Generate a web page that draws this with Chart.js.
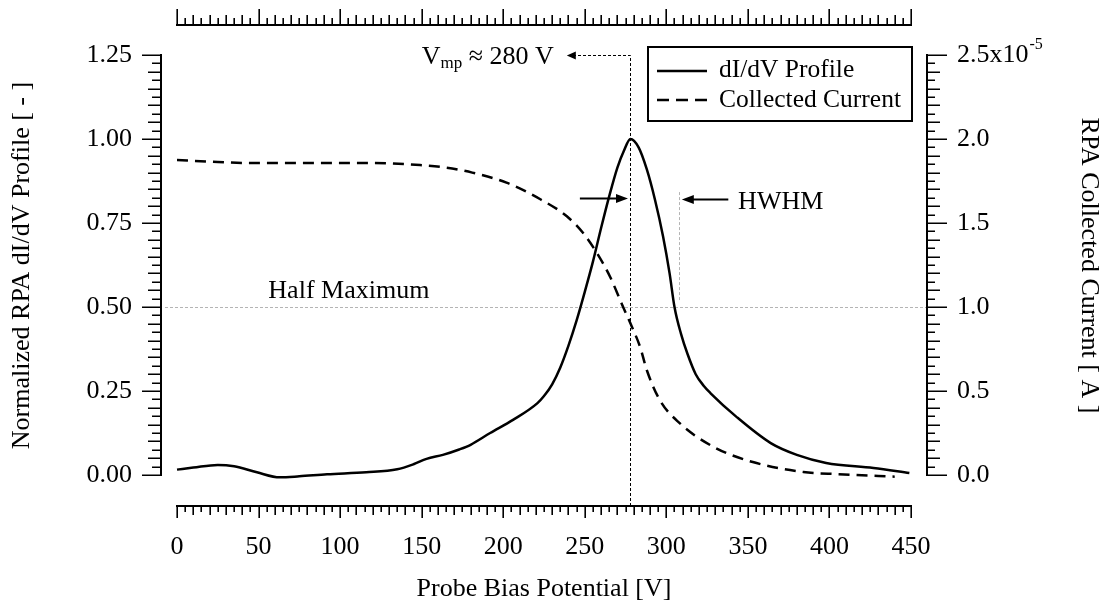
<!DOCTYPE html>
<html><head><meta charset="utf-8">
<script src="https://cdn.jsdelivr.net/npm/chart.js@4/dist/chart.umd.min.js"></script>
<style>html,body{margin:0;padding:0;background:#fff;} #wrap{width:1111px;height:609px;position:relative;}</style>
</head><body><div id="wrap"><canvas id="c"></canvas></div>
<script>
// ---- data ----
const profileBias   = [0, 10, 25, 35, 49, 63, 75, 92, 116, 135, 145, 153, 163, 173, 180, 192, 206, 221, 225, 230, 235, 240, 245, 250, 255, 260, 265, 270, 274, 278, 283, 288, 293, 298, 302, 305, 309, 313, 318, 323, 327, 343, 364, 380, 398, 427, 449];
const profileValues = [0.016, 0.022, 0.030, 0.026, 0.008, -0.007, -0.004, 0.002, 0.008, 0.017, 0.032, 0.048, 0.060, 0.076, 0.090, 0.125, 0.164, 0.214, 0.235, 0.270, 0.320, 0.385, 0.460, 0.545, 0.635, 0.735, 0.830, 0.915, 0.965, 1.000, 0.975, 0.910, 0.820, 0.710, 0.600, 0.500, 0.420, 0.360, 0.300, 0.265, 0.244, 0.173, 0.095, 0.060, 0.036, 0.021, 0.006];
const currentBias   = [0, 20, 45, 80, 118, 149, 165, 181, 202, 223, 239, 249, 257.5, 265.5, 273.5, 279, 284, 288, 296, 308, 329, 353, 384, 405, 440];
const currentValues = [1.875e-5, 1.865e-5, 1.857e-5, 1.857e-5, 1.857e-5, 1.845e-5, 1.83e-5, 1.80e-5, 1.74e-5, 1.64e-5, 1.54e-5, 1.44e-5, 1.32e-5, 1.18e-5, 1.00e-5, 0.88e-5, 0.76e-5, 0.625e-5, 0.446e-5, 0.31e-5, 0.167e-5, 0.077e-5, 0.018e-5, 0.005e-5, -0.01e-5];
const xTickValues     = [0, 50, 100, 150, 200, 250, 300, 350, 400, 450];
const leftTickValues  = [0, 0.25, 0.5, 0.75, 1.0, 1.25];
const rightTickValues = [0, 0.5e-5, 1.0e-5, 1.5e-5, 2.0e-5, 2.5e-5];
const seriesNames = ['dI/dV Profile', 'Collected Current'];
const vmpValue = 278;
const halfMaxValue = 0.5;
const hwhmRightValue = 308;

// axis ranges (offset axes, Igor style)
const X_MIN = -9.809, X_MAX = 459.809;
const Y_MIN = -0.092262, Y_MAX = 1.339286;
const Y2_MIN = Y_MIN * 2e-5, Y2_MAX = Y_MAX * 2e-5;

const FONT = 'Liberation Serif, "Times New Roman", serif';
const FS = 26;

function pts(xs, ys){ return xs.map((v,i)=>({x:v, y:ys[i]})); }

function arrowHead(ctx, tipX, tipY, dir, len, half){
  ctx.beginPath();
  ctx.moveTo(tipX, tipY);
  ctx.lineTo(tipX - dir*len, tipY - half);
  ctx.lineTo(tipX - dir*len, tipY + half);
  ctx.closePath(); ctx.fill();
}

const decor = {
  id: 'decor',
  beforeDatasetsDraw(chart){
    const {ctx, chartArea: ca, scales: {x, y}} = chart;
    ctx.save();
    ctx.strokeStyle = '#b4b4b4'; ctx.lineWidth = 1; ctx.setLineDash([3,2]);
    const hy = Math.round(y.getPixelForValue(halfMaxValue)) + 0.5;
    ctx.beginPath(); ctx.moveTo(ca.left + 4, hy); ctx.lineTo(ca.right, hy); ctx.stroke();
    const hx = Math.round(x.getPixelForValue(hwhmRightValue)) + 0.5;
    ctx.beginPath(); ctx.moveTo(hx, y.getPixelForValue(0.842)); ctx.lineTo(hx, y.getPixelForValue(0.52)); ctx.stroke();
    ctx.strokeStyle = '#000'; ctx.setLineDash([3,2]);
    const vx = Math.round(x.getPixelForValue(vmpValue)) + 0.5;
    const topY = Math.round(y.getPixelForValue(1.25)) + 0.5;
    ctx.beginPath(); ctx.moveTo(vx, ca.bottom); ctx.lineTo(vx, topY); ctx.lineTo(x.getPixelForValue(239) + 8, topY); ctx.stroke();
    ctx.setLineDash([]);
    ctx.fillStyle = '#000';
    arrowHead(ctx, x.getPixelForValue(239), topY, -1, 9, 4);
    ctx.restore();
  },
  afterDraw(chart){
    const {ctx, chartArea: ca, scales: {x, y, y2}} = chart;
    ctx.save();
    ctx.strokeStyle = '#000'; ctx.fillStyle = '#000';
    ctx.lineWidth = 2;
    const x0 = x.getPixelForValue(0), x1 = x.getPixelForValue(450);
    ctx.beginPath(); ctx.moveTo(x0 - 1, ca.bottom); ctx.lineTo(x1 + 1, ca.bottom); ctx.stroke();
    ctx.beginPath(); ctx.moveTo(x0 - 1, ca.top); ctx.lineTo(x1 + 1, ca.top); ctx.stroke();
    const yb = y.getPixelForValue(0), yt = y.getPixelForValue(1.25);
    ctx.beginPath(); ctx.moveTo(ca.left, yb + 1); ctx.lineTo(ca.left, yt - 1); ctx.stroke();
    ctx.beginPath(); ctx.moveTo(ca.right, yb + 1); ctx.lineTo(ca.right, yt - 1); ctx.stroke();
    ctx.lineWidth = 1.6;
    ctx.beginPath();
    for (let i = 0; i <= 90; i++) {
      const v = i * 5; const px = Math.round(x.getPixelForValue(v)) + 0.2;
      const lb = (v % 50 === 0) ? 12 : (v % 10 === 0 ? 9 : 6);
      ctx.moveTo(px, ca.bottom); ctx.lineTo(px, ca.bottom + lb);
      const lt = (v % 50 === 0) ? 16 : (v % 10 === 0 ? 10 : 7);
      ctx.moveTo(px, ca.top); ctx.lineTo(px, ca.top - lt);
    }
    for (let i = 0; i <= 50; i++) {
      const py = Math.round(y.getPixelForValue(i * 0.025)) + 0.2;
      const ll = (i % 10 === 0) ? 19 : (i % 2 === 0 ? 13 : 9);
      ctx.moveTo(ca.left, py); ctx.lineTo(ca.left - ll, py);
      const py2 = Math.round(y2.getPixelForValue(i * 0.05e-5)) + 0.2;
      const lr = (i % 10 === 0) ? 20 : (i % 2 === 0 ? 13 : 8);
      ctx.moveTo(ca.right, py2); ctx.lineTo(ca.right + lr, py2);
    }
    ctx.stroke();

    ctx.font = FS + 'px ' + FONT;
    const wLab = ctx.measureText('2.5x10').width;
    const lx = ca.right + 30;
    ctx.font = '16px ' + FONT; ctx.textBaseline = 'middle'; ctx.textAlign = 'left';
    ctx.fillText('-5', lx + wLab + 1, y2.getPixelForValue(2.5e-5) - 10);

    const labY = y.getPixelForValue(1.25) + 2;
    const rightEnd = x.getPixelForValue(231);
    ctx.font = FS + 'px ' + FONT;
    const wV = ctx.measureText('V').width;
    const rest = ' \u2248 280 V';
    const wRest = ctx.measureText(rest).width;
    ctx.font = '17px ' + FONT;
    const wSub = ctx.measureText('mp').width;
    let sx = rightEnd - (wV + wSub + wRest);
    ctx.font = FS + 'px ' + FONT; ctx.fillText('V', sx, labY);
    ctx.font = '17px ' + FONT; ctx.fillText('mp', sx + wV, labY + 7);
    ctx.font = FS + 'px ' + FONT; ctx.fillText(rest, sx + wV + wSub, labY);

    ctx.lineWidth = 2;
    const ay = Math.round(y.getPixelForValue(0.824)) + 0.5;
    const lTail = x.getPixelForValue(247), lTip = x.getPixelForValue(276.5);
    ctx.beginPath(); ctx.moveTo(lTail, ay); ctx.lineTo(lTip - 10, ay); ctx.stroke();
    arrowHead(ctx, lTip, ay, 1, 12, 4.5);
    const ay2 = Math.round(y.getPixelForValue(0.82)) + 0.5;
    const rTip = x.getPixelForValue(309.5), rTail = x.getPixelForValue(338);
    ctx.beginPath(); ctx.moveTo(rTail, ay2); ctx.lineTo(rTip + 10, ay2); ctx.stroke();
    arrowHead(ctx, rTip, ay2, -1, 12, 4.5);
    ctx.font = FS + 'px ' + FONT; ctx.textAlign = 'left'; ctx.textBaseline = 'middle';
    ctx.fillText('HWHM', x.getPixelForValue(344), y.getPixelForValue(0.8125));
    ctx.fillText('Half Maximum', x.getPixelForValue(56), y.getPixelForValue(0.548));

    ctx.lineWidth = 2;
    ctx.strokeRect(648, 47, 264, 74);
    ctx.lineWidth = 2.5;
    ctx.beginPath(); ctx.moveTo(657, 71); ctx.lineTo(707, 71); ctx.stroke();
    ctx.setLineDash([12,7]);
    ctx.beginPath(); ctx.moveTo(657, 100); ctx.lineTo(707, 100); ctx.stroke();
    ctx.setLineDash([]);
    ctx.font = '25.5px ' + FONT;
    ctx.fillText(seriesNames[0], 719, 70);
    ctx.fillText(seriesNames[1], 719, 100);
    ctx.restore();
  }
};

const tickFont = {family: FONT, size: FS};
function noPadV(s, w){ s.width = w; s.paddingTop = 0; s.paddingBottom = 0; }
new Chart(document.getElementById('c'), {
  type: 'line',
  data: {
    datasets: [
      { label: seriesNames[0], data: pts(profileBias, profileValues), yAxisID: 'y',
        borderColor: '#000', borderWidth: 2.5, pointRadius: 0, fill: false, cubicInterpolationMode: 'monotone' },
      { label: seriesNames[1], data: pts(currentBias, currentValues), yAxisID: 'y2',
        borderColor: '#000', borderWidth: 2.5, borderDash: [11,7], pointRadius: 0, fill: false, cubicInterpolationMode: 'monotone' }
    ]
  },
  options: {
    responsive: true, maintainAspectRatio: false, animation: false, devicePixelRatio: 1,
    layout: { padding: {top: 25, left: 0, right: 0, bottom: 0} },
    plugins: { legend: {display: false}, tooltip: {enabled: false} },
    scales: {
      x: {
        type: 'linear', position: 'bottom', min: X_MIN, max: X_MAX,
        grid: {display: false, drawTicks: false}, border: {display: false},
        afterBuildTicks: s => { s.ticks = xTickValues.map(v => ({value: v})); },
        afterFit: s => { s.height = 103; s.paddingLeft = 0; s.paddingRight = 0; },
        ticks: {font: tickFont, color: '#000', padding: 26, maxRotation: 0, autoSkip: false, callback: v => String(v)},
        title: {display: true, text: 'Probe Bias Potential [V]', font: tickFont, color: '#000', padding: {top: 0, bottom: 4}}
      },
      y: {
        type: 'linear', position: 'left', min: Y_MIN, max: Y_MAX,
        grid: {display: false, drawTicks: false}, border: {display: false},
        afterBuildTicks: s => { s.ticks = leftTickValues.map(v => ({value: v})); },
        afterFit: s => noPadV(s, 161),
        ticks: {font: tickFont, color: '#000', padding: 29, autoSkip: false, callback: v => v.toFixed(2)},
        title: {display: true, text: 'Normalized RPA dI/dV Profile [ - ]', font: tickFont, color: '#000', padding: {top: 7, bottom: 0}}
      },
      y2: {
        type: 'linear', position: 'right', min: Y2_MIN, max: Y2_MAX,
        grid: {display: false, drawTicks: false}, border: {display: false},
        afterBuildTicks: s => { s.ticks = rightTickValues.map(v => ({value: v})); },
        afterFit: s => noPadV(s, 184),
        ticks: {font: tickFont, color: '#000', padding: 30, autoSkip: false,
          callback: v => { const t = (v / 1e-5).toFixed(1); return Math.abs(v - 2.5e-5) < 1e-9 ? t + 'x10' : t; }},
        title: {display: true, text: 'RPA Collected Current [ A ]', font: tickFont, color: '#000', padding: {top: 7, bottom: 0}}
      }
    }
  },
  plugins: [decor]
});
</script></body></html>
